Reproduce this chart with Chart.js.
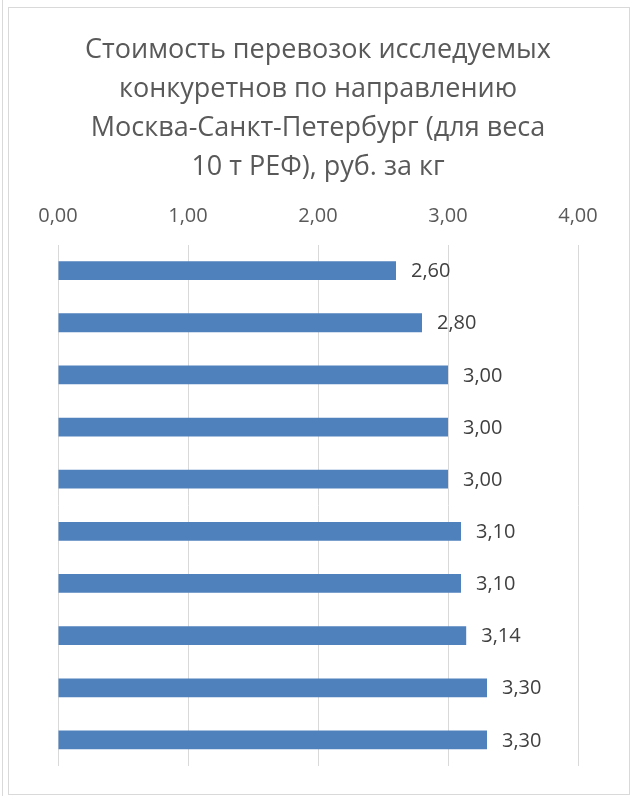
<!DOCTYPE html>
<html><head><meta charset="utf-8">
<script src="https://cdn.jsdelivr.net/npm/chart.js@4.4.1/dist/chart.umd.min.js"></script>
<style>html,body{margin:0;padding:0;background:#fff}#wrap{position:relative;width:634px;height:796px}</style>
</head><body><div id="wrap"><canvas id="c" width="634" height="796"></canvas></div>
<script>
const titleLines = ["Стоимость перевозок исследуемых","конкуретнов по направлению","Москва-Санкт-Петербург (для веса","10 т РЕФ), руб. за кг"];
const categories = ["1","2","3","4","5","6","7","8","9","10"];
const values = [2.60, 2.80, 3.00, 3.00, 3.00, 3.10, 3.10, 3.14, 3.30, 3.30];
const xTicks = [0, 1, 2, 3, 4];
const FONT = "'Open Sans', sans-serif";
const fmt = v => v.toFixed(2).replace('.', ',');

const frame = {
  id: 'frame',
  beforeDraw(chart) {
    const ctx = chart.ctx;
    ctx.save();
    ctx.fillStyle = '#fff'; ctx.fillRect(0,0,chart.width,chart.height);
    ctx.strokeStyle = '#d9d9d9'; ctx.lineWidth = 1;
    ctx.strokeRect(8.5, 7.5, 621, 787);
    ctx.beginPath(); ctx.moveTo(2.5, 0); ctx.lineTo(2.5, 796); ctx.stroke();
    ctx.restore();
  }
};
const labels = {
  id: 'vlabels',
  afterDatasetsDraw(chart) {
    const ctx = chart.ctx; const meta = chart.getDatasetMeta(0);
    ctx.save();
    ctx.font = "20px " + FONT; ctx.fillStyle = '#404040';
    ctx.textAlign = 'left'; ctx.textBaseline = 'middle';
    meta.data.forEach((bar, i) => { ctx.fillText(fmt(values[i]), bar.x + 15, bar.y + 1); });
    ctx.restore();
  }
};

new Chart(document.getElementById('c'), {
  type: 'bar',
  data: { labels: categories, datasets: [{ data: values, backgroundColor: '#4f81bd', borderWidth: 0, barPercentage: 0.72, categoryPercentage: 0.5 }] },
  options: {
    indexAxis: 'y', responsive: false, animation: false,
    layout: { padding: { left: 58, right: 56, top: 0, bottom: 30 } },
    plugins: {
      legend: { display: false }, tooltip: { enabled: false },
      title: { display: true, text: titleLines, color: '#595959', font: { family: FONT, size: 27, weight: 'normal', lineHeight: 1.44 }, padding: { top: 31, bottom: 2 } }
    },
    scales: {
      x: { position: 'top', min: 0, max: 4,
        afterBuildTicks: ax => { ax.ticks = xTicks.map(v => ({ value: v })); },
        ticks: { color: '#595959', font: { family: FONT, size: 20 }, padding: 16, callback: v => fmt(v) },
        grid: { color: '#d9d9d9', lineWidth: 1, drawTicks: false },
        border: { display: false } },
      y: { display: false, grid: { display: false } }
    }
  },
  plugins: [frame, labels]
});
</script></body></html>
